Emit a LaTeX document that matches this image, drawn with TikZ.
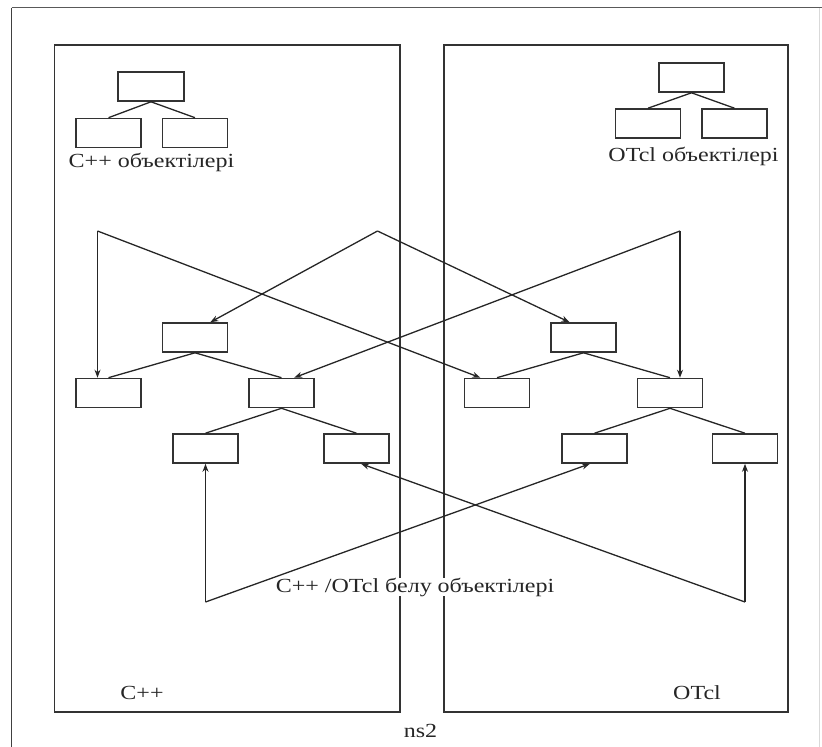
\documentclass[tikz,border=0pt]{standalone}
\usepackage{fontspec}
\setmainfont[FakeStretch=1.2]{Liberation Serif}
\usetikzlibrary{arrows.meta,calc}
\tikzset{
  obj/.style={draw=black!80, line width=1.6pt, minimum width=65pt, minimum height=29pt, inner sep=0pt},
  panel/.style={draw=black!80, line width=1.6pt},
  link/.style={draw=black!85, line width=1.3pt},
  arr/.style={link, -{Stealth[length=8pt,width=6pt]}},
  lbl/.style={font=\fontsize{20}{24}\selectfont, inner sep=1pt, text=black!85}
}
\begin{document}
\begin{tikzpicture}[x=1pt,y=-1pt]
\useasboundingbox (0,0) rectangle (822,747);
% outer frame
\draw[black!65, line width=1.8pt] (11.5,7.5) -- (822,7.5);
\draw[black!75, line width=1.8pt] (11.5,7.5) -- (11.5,747);
\draw[black!15, line width=1pt] (819,8) -- (819,747);
% panels
\draw[panel] (54.5,45) rectangle (400,712);
\draw[panel] (444,45) rectangle (788,712);
% small trees
\node[obj, minimum width=66pt] (a0) at (151,86.5) {};
\node[obj] (a1) at (108.5,133) {};
\node[obj] (a2) at (195,133) {};
\draw[link] (a0.south) -- (a1.north) (a0.south) -- (a2.north);
\node[obj] (b0) at (691.5,77.5) {};
\node[obj] (b1) at (648,123.5) {};
\node[obj] (b2) at (734.5,123.5) {};
\draw[link] (b0.south) -- (b1.north) (b0.south) -- (b2.north);
\node[lbl] (tc) at (151.5,162) {C++ объектілері};
\node[lbl] (to) at (693.5,156) {OTcl объектілері};
% main trees
\node[obj] (l0) at (195,337.5) {};
\node[obj] (l1) at (108.5,393) {};
\node[obj] (l2) at (281.5,393) {};
\node[obj] (l3) at (205.5,448.5) {};
\node[obj] (l4) at (356.5,448.5) {};
\node[obj] (r0) at (583.5,337.5) {};
\node[obj] (r1) at (497,393) {};
\node[obj] (r2) at (670,393) {};
\node[obj] (r3) at (594.5,448.5) {};
\node[obj] (r4) at (745,448.5) {};
\draw[link] (l0.south) -- (l1.north) (l0.south) -- (l2.north)
            (l2.south) -- (l3.north) (l2.south) -- (l4.north);
\draw[link] (r0.south) -- (r1.north) (r0.south) -- (r2.north)
            (r2.south) -- (r3.north) (r2.south) -- (r4.north);
% junction points
\coordinate (p1) at (97.5,231);
\coordinate (p2) at (377.5,231);
\coordinate (p3) at (680,231);
\coordinate (q1) at (205.5,602);
\coordinate (q2) at (745,602);
% arrows from top
\draw[arr] (p1) -- (p1 |- l1.north);
\draw[arr] (p1) -- ($(r1.north west)!0.25!(r1.north east)$);
\draw[arr] (p2) -- ($(l0.north west)!0.73!(l0.north east)$);
\draw[arr] (p2) -- ($(r0.north west)!0.29!(r0.north east)$);
\draw[arr] (p3) -- (p3 |- r2.north);
\draw[arr] (p3) -- ($(l2.north west)!0.69!(l2.north east)$);
% arrows from bottom
\draw[arr] (q1) -- (l3.south);
\draw[arr] (q1) -- ($(r3.south west)!0.43!(r3.south east)$);
\draw[arr] (q2) -- (r4.south);
\draw[arr] (q2) -- ($(l4.south west)!0.57!(l4.south east)$);
% labels
\node[lbl, fill=white, inner sep=0pt] (mid) at (415,587) {C++ /OTcl белу объектілері};
\node[lbl] (cpp) at (142,693) {C++};
\node[lbl] (otcl) at (697,693) {OTcl};
\node[lbl] (ns) at (420.5,731) {ns2};
\end{tikzpicture}
\end{document}
